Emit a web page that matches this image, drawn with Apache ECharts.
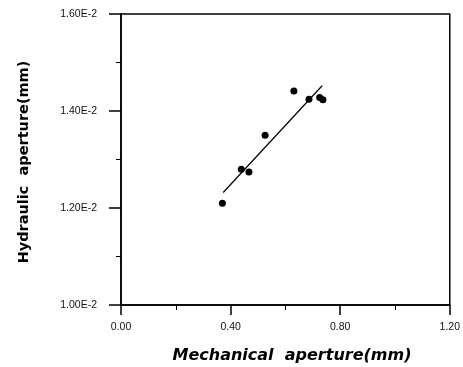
<!DOCTYPE html>
<html><head><meta charset="utf-8">
<script src="https://cdn.jsdelivr.net/npm/echarts@6/dist/echarts.min.js"></script>
<style>html,body{margin:0;padding:0;background:#fff}#c{width:463px;height:367px}</style>
</head><body><div id="c"></div>
<script>
var mechAperture = [0.370, 0.439, 0.467, 0.526, 0.631, 0.686, 0.725, 0.737];
var hydAperture  = [0.01210, 0.01280, 0.01274, 0.01350, 0.01441, 0.01424, 0.01428, 0.01423];
var fitX = [0.373, 0.734];
var fitY = [0.01232, 0.01452];
var xTicks = ['0.00', '0.40', '0.80', '1.20'];
var yTicks = ['1.00E-2', '1.20E-2', '1.40E-2', '1.60E-2'];
var xTitle = 'Mechanical  aperture(mm)';
var yTitle = 'Hydraulic  aperture(mm)';

var pts = mechAperture.map(function(x, i){ return [x, hydAperture[i]]; });
var fit = fitX.map(function(x, i){ return [x, fitY[i]]; });

var chart = echarts.init(document.getElementById('c'), null, {renderer: 'canvas'});
var lbl = {fontFamily: 'Liberation Sans, Arial, sans-serif', fontSize: 10.5, color: '#111'};
chart.setOption({
  animation: false,
  backgroundColor: '#fff',
  grid: {left: 121, right: 9, top: 14, bottom: 62, show: true, borderColor: '#000', borderWidth: 1.5},
  graphic: [
    {type: 'text', x: 292, y: 356, style: {text: xTitle, fontFamily: 'DejaVu Sans, sans-serif', fontSize: 16, fontWeight: 'bold', fontStyle: 'italic', fill: '#000', align: 'center', verticalAlign: 'middle'}},
    {type: 'text', x: 24, y: 162, rotation: Math.PI/2, style: {text: yTitle, fontFamily: 'DejaVu Sans, sans-serif', fontSize: 14.5, fontWeight: 'bold', fill: '#000', align: 'center', verticalAlign: 'middle'}}
  ],
  xAxis: {
    type: 'value', min: 0, max: 1.2, interval: 0.4,
    axisLine: {lineStyle: {color: '#000', width: 1.5}},
    axisTick: {length: 10, lineStyle: {color: '#000', width: 1.5}},
    minorTick: {show: true, splitNumber: 2, length: 5, lineStyle: {color: '#000', width: 1}},
    splitLine: {show: false},
    axisLabel: Object.assign({margin: 17, formatter: function(v){ return xTicks[Math.round(v/0.4)]; }}, lbl)
  },
  yAxis: {
    type: 'value', min: 0.010, max: 0.016, interval: 0.002,
    axisLine: {lineStyle: {color: '#000', width: 1.5}},
    axisTick: {length: 12, lineStyle: {color: '#000', width: 1.5}},
    minorTick: {show: true, splitNumber: 2, length: 5, lineStyle: {color: '#000', width: 1}},
    splitLine: {show: false},
    axisLabel: Object.assign({margin: 24, formatter: function(v){ return yTicks[Math.round((v-0.010)/0.002)]; }}, lbl)
  },
  series: [
    {type: 'line', data: fit, symbol: 'none', lineStyle: {color: '#000', width: 1.2}, z: 2},
    {type: 'scatter', data: pts, symbol: 'circle', symbolSize: 7, itemStyle: {color: '#000', opacity: 1}, z: 3}
  ]
});
</script></body></html>
